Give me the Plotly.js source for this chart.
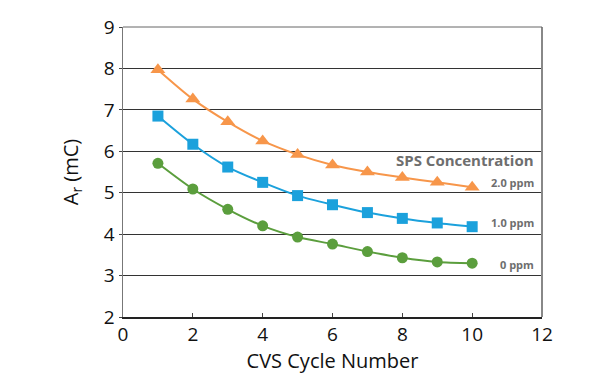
<!DOCTYPE html>
<html><head><meta charset="utf-8">
<script src="https://cdn.plot.ly/plotly-3.0.1.min.js"></script>
<style>html,body{margin:0;padding:0;background:#fff}#chart{width:600px;height:384px}</style>
</head><body><div id="chart"></div>
<script>
const cycles = [1,2,3,4,5,6,7,8,9,10];
const ppm2 = [7.97,7.26,6.71,6.25,5.92,5.67,5.50,5.37,5.25,5.13];
const ppm1 = [6.85,6.17,5.62,5.25,4.93,4.71,4.52,4.38,4.27,4.18];
const ppm0 = [5.71,5.09,4.60,4.20,3.93,3.76,3.58,3.43,3.33,3.30];
const seriesLabels = ["2.0 ppm","1.0 ppm","0 ppm"];
const labelY = [5.25,4.28,3.27];

function tr(y,color,sym,size){
  return {x:cycles,y:y,mode:'lines+markers',line:{color:color,width:2,shape:'spline',smoothing:0.8},
    marker:{color:color,symbol:sym,size:size},showlegend:false,hoverinfo:'skip'};
}
const data=[tr(ppm2,'#F7964A','triangle-up',13),tr(ppm1,'#1BA1DC','square',11),tr(ppm0,'#5B9E3D','circle',11)];
const ann=[{x:11.83,y:5.8,xref:'x',yref:'y',text:'<b>SPS Concentration</b>',showarrow:false,xanchor:'right',font:{family:'Open Sans',size:15,color:'#6E6E6E'}}];
seriesLabels.forEach((t,i)=>ann.push({x:11.83,y:labelY[i],xref:'x',yref:'y',text:'<b>'+t+'</b>',showarrow:false,xanchor:'right',font:{family:'Open Sans',size:11,color:'#6E6E6E'}}));
const layout={width:600,height:384,margin:{l:123,r:58,t:27,b:67},paper_bgcolor:'#fff',plot_bgcolor:'#fff',
  font:{family:'Open Sans',color:'#111'},
  xaxis:{range:[0,12],dtick:2,tick0:0,showgrid:false,zeroline:false,showline:true,linecolor:'#222',linewidth:1.5,
    ticks:'inside',ticklen:4,tickcolor:'#444',tickfont:{size:19,color:'#111'},
    title:{text:'CVS Cycle Number',font:{size:20,color:'#111'},standoff:2}},
  yaxis:{range:[2,9],dtick:1,showgrid:true,gridcolor:'#333',gridwidth:1,zeroline:false,showline:true,linecolor:'#777',linewidth:1.5,
    ticks:'outside',ticklen:3,tickcolor:'#444',tickfont:{size:19,color:'#111'},
    title:{text:'A<sub>r</sub> (mC)',font:{size:20,color:'#111'},standoff:20}},
  shapes:[{type:'line',xref:'paper',yref:'paper',x0:1,x1:1,y0:0,y1:1,line:{color:'#888',width:2}},
          {type:'line',xref:'paper',yref:'paper',x0:0,x1:1,y0:1,y1:1,line:{color:'#666',width:1}}],
  annotations:ann};
Plotly.newPlot('chart',data,layout,{displayModeBar:false,staticPlot:true});
</script></body></html>
